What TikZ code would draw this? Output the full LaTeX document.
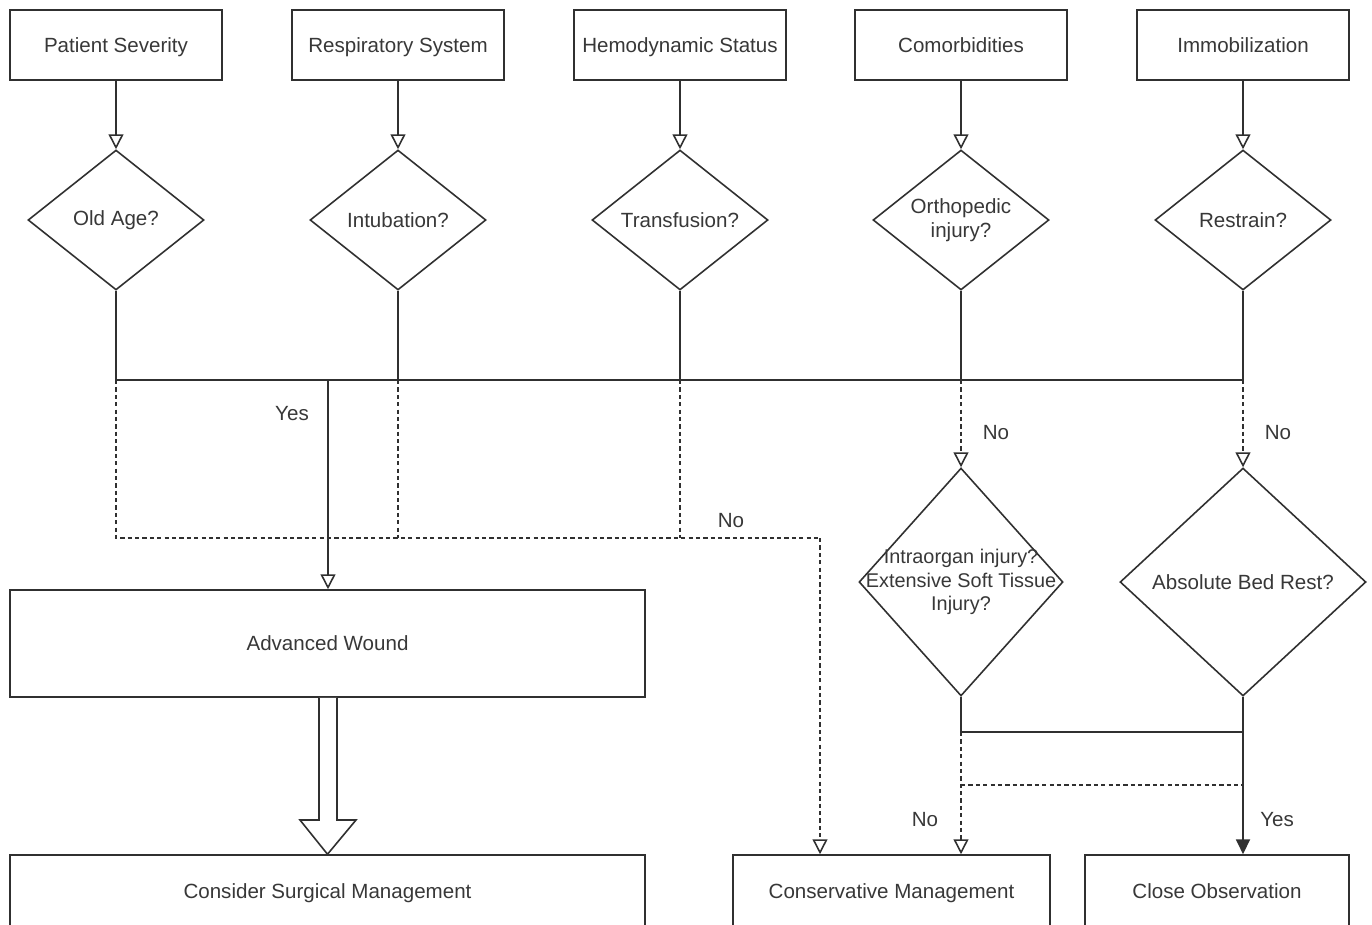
\documentclass[tikz,border=0pt]{standalone}
\usepackage{fontspec}
\setmainfont{Liberation Sans}
\usetikzlibrary{shapes.geometric,arrows.meta}
\definecolor{ln}{HTML}{303030}
\definecolor{tx}{HTML}{383838}
\begin{document}
\begin{tikzpicture}[x=0.02cm,y=-0.02cm,
  every node/.style={font=\fontsize{11.7}{14}\selectfont, text=tx},
  box/.style={draw=ln, line width=0.9pt, rectangle, inner sep=0pt, text height=10.4pt, text depth=2.4pt},
  dia/.style={draw=ln, line width=0.9pt, diamond, inner sep=0pt},
  lbl/.style={align=center, inner sep=0pt},
  conn/.style={draw=ln, line width=0.9pt},
  dashline/.style={draw=ln, line width=0.9pt, dash pattern=on 2.4pt off 1.8pt},
  otip/.style={-{Triangle[open, length=8.5pt, width=8.5pt]}},
  ftip/.style={-{Triangle[length=8.5pt, width=8pt]}},
]
\useasboundingbox (0,0) rectangle (1372,924);
\clip (0,0) rectangle (1372,924);
\fill[white] (0,0) rectangle (1372,924);

% top boxes
\node[box, minimum width=4.24cm, minimum height=1.4cm] (t1) at (116,45) {Patient Severity};
\node[box, minimum width=4.24cm, minimum height=1.4cm] (t2) at (398,45) {Respiratory System};
\node[box, minimum width=4.24cm, minimum height=1.4cm] (t3) at (680,45) {Hemodynamic Status};
\node[box, minimum width=4.24cm, minimum height=1.4cm] (t4) at (961,45) {Comorbidities};
\node[box, minimum width=4.24cm, minimum height=1.4cm] (t5) at (1243,45) {Immobilization};

% diamonds
\node[dia, minimum width=3.52cm, minimum height=2.8cm] (d1) at (116,220) {};
\node[dia, minimum width=3.52cm, minimum height=2.8cm] (d2) at (398,220) {};
\node[dia, minimum width=3.52cm, minimum height=2.8cm] (d3) at (680,220) {};
\node[dia, minimum width=3.52cm, minimum height=2.8cm] (d4) at (961,220) {};
\node[dia, minimum width=3.52cm, minimum height=2.8cm] (d5) at (1243,220) {};
\node[lbl] (q1) at (d1) {Old Age?};
\node[lbl] (q2) at (d2) {Intubation?};
\node[lbl] (q3) at (d3) {Transfusion?};
\node[lbl] (q4) at (d4) {Orthopedic\\injury?};
\node[lbl] (q5) at (d5) {Restrain?};

\foreach \i in {1,...,5} {\draw[conn, otip] (t\i) -- (d\i);}

% bus
\coordinate (b1) at (116,380);
\coordinate (b2) at (398,380);
\coordinate (b3) at (680,380);
\coordinate (b4) at (961,380);
\coordinate (b5) at (1243,380);
\coordinate (by) at (328,380);
\foreach \i in {1,...,5} {\draw[conn] (d\i.south) -- (b\i);}
\draw[conn] (b1) -- (b5);

% lower boxes
\node[box, minimum width=12.7cm, minimum height=2.14cm] (aw) at (327.5,643.5) {Advanced Wound};
\node[box, minimum width=12.7cm, minimum height=1.46cm] (cs) at (327.5,891.5) {Consider Surgical Management};
\node[box, minimum width=6.34cm, minimum height=1.46cm] (cm) at (891.5,891.5) {Conservative Management};
\node[box, minimum width=5.28cm, minimum height=1.46cm] (co) at (1217,891.5) {Close Observation};

% yes to advanced wound
\draw[conn, otip] (by) -- (aw.north -| by);
\node[lbl] (yes1) at (292,414) {Yes};

% dashed no path to conservative
\coordinate (n1) at (116,538);
\coordinate (n2) at (398,538);
\coordinate (n3) at (680,538);
\coordinate (n4) at (820,538);
\draw[dashline] (b1) -- (n1) -- (n4);
\draw[dashline] (b2) -- (n2);
\draw[dashline] (b3) -- (n3);
\draw[dashline, otip] (n4) -- (cm.north -| n4);
\node[lbl] (no1) at (731,521) {No};

% second-level diamonds
\node[dia, minimum width=4.08cm, minimum height=4.56cm] (e1) at (961,582) {};
\node[dia, minimum width=4.92cm, minimum height=4.56cm] (e2) at (1243,582) {};
\node[lbl, font=\fontsize{11.3}{13.5}\selectfont] (r1) at (e1) {Intraorgan injury?\\Extensive Soft Tissue\\Injury?};
\node[lbl] (r2) at (e2) {Absolute Bed Rest?};
\draw[dashline, otip] (b4) -- (e1.north);
\draw[dashline, otip] (b5) -- (e2.north);
\node[lbl] (no2) at (996,433) {No};
\node[lbl] (no3) at (1278,433) {No};

% bottom connectors
\coordinate (m1) at (961,732);
\coordinate (m2) at (1243,732);
\coordinate (k1) at (961,785);
\coordinate (k2) at (1243,785);
\draw[conn] (e1.south) -- (m1) -- (m2);
\draw[conn, ftip] (e2.south) -- (co.north -| e2.south);
\draw[dashline, otip] (m1) -- (cm.north -| m1);
\draw[dashline] (k1) -- (k2);
\node[lbl] (no4) at (925,820) {No};
\node[lbl] (yes2) at (1277,820) {Yes};

% big hollow arrow
\draw[conn, fill=white] (aw.south -| 319,0) -- (319,820) -- (300,820) -- (cs.north) -- (356,820) -- (337,820) -- (aw.south -| 337,0);
\end{tikzpicture}
\end{document}
